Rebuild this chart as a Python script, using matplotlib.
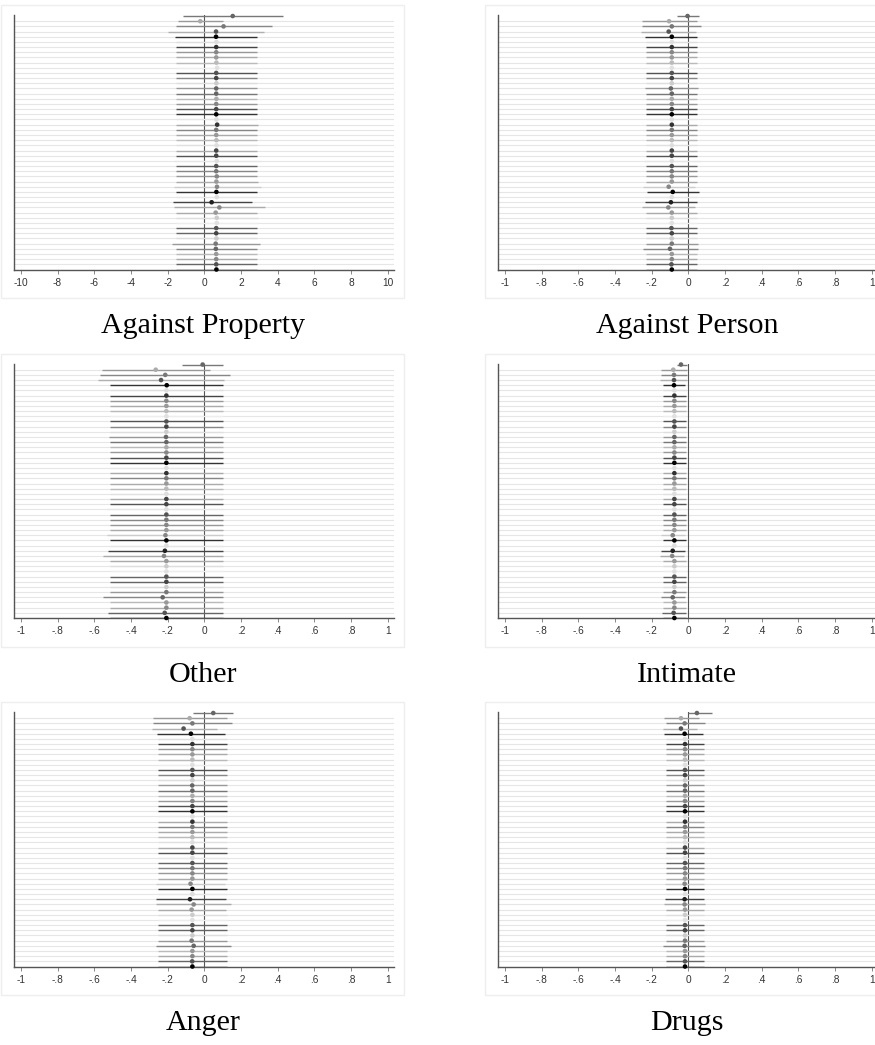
import matplotlib
matplotlib.use("Agg")
import matplotlib.pyplot as plt
from matplotlib.patches import Rectangle

# ---------------- data ----------------
titles = ["Against Property", "Against Person", "Other", "Intimate", "Anger", "Drugs"]

ticks_wide = [-10, -8, -6, -4, -2, 0, 2, 4, 6, 8, 10]
ticklabels_wide = ["-10", "-8", "-6", "-4", "-2", "0", "2", "4", "6", "8", "10"]
ticks_unit = [-1, -0.8, -0.6, -0.4, -0.2, 0, 0.2, 0.4, 0.6, 0.8, 1]
ticklabels_unit = ["-1", "-.8", "-.6", "-.4", "-.2", "0", ".2", ".4", ".6", ".8", "1"]

prop_est = [1.55, -0.22, 1.05, 0.64, 0.64, 0.66, 0.65, 0.65, 0.65, 0.66,
            0.70, 0.65, 0.65, 0.66, 0.65, 0.65, 0.66, 0.65, 0.65, 0.65,
            0.66, 0.70, 0.65, 0.65, 0.66, 0.67, 0.65, 0.65, 0.68, 0.65,
            0.65, 0.68, 0.66, 0.69, 0.66, 0.68, 0.40, 0.82, 0.62, 0.68,
            0.68, 0.65, 0.65, 0.66, 0.62, 0.63, 0.65, 0.65, 0.65, 0.66]
prop_lo = [-1.16, -1.42, -1.55, -1.98, -1.60, -1.55, -1.55, -1.55, -1.55, -1.55,
           -1.55, -1.55, -1.55, -1.55, -1.55, -1.55, -1.55, -1.55, -1.55, -1.55,
           -1.55, -1.52, -1.55, -1.55, -1.55, -1.55, -1.55, -1.55, -1.65, -1.55,
           -1.55, -1.55, -1.55, -1.65, -1.55, -1.55, -1.69, -1.65, -1.53, -1.52,
           -1.52, -1.55, -1.55, -1.55, -1.76, -1.55, -1.55, -1.55, -1.57, -1.55]
prop_hi = [4.27, 1.04, 3.67, 3.25, 2.85, 2.90, 2.90, 2.90, 2.90, 2.90,
           2.90, 2.90, 2.90, 2.90, 2.90, 2.90, 2.90, 2.90, 2.90, 2.90,
           2.90, 2.92, 2.90, 2.90, 2.90, 2.90, 2.90, 2.90, 3.07, 2.90,
           2.90, 2.90, 2.95, 3.09, 2.90, 2.90, 2.58, 3.31, 2.85, 2.92,
           2.92, 2.90, 2.90, 2.90, 3.04, 2.90, 2.90, 2.90, 2.90, 2.90]

person_est = [-0.004, -0.105, -0.090, -0.107, -0.090, -0.090, -0.090, -0.090, -0.090, -0.090,
              -0.090, -0.090, -0.090, -0.090, -0.095, -0.090, -0.090, -0.090, -0.090, -0.090,
              -0.090, -0.090, -0.090, -0.090, -0.090, -0.090, -0.090, -0.090, -0.090, -0.090,
              -0.090, -0.090, -0.090, -0.107, -0.085, -0.090, -0.095, -0.109, -0.090, -0.090,
              -0.090, -0.092, -0.090, -0.090, -0.090, -0.100, -0.090, -0.090, -0.092, -0.090]
person_lo = [-0.060, -0.250, -0.250, -0.260, -0.236, -0.232, -0.232, -0.232, -0.232, -0.232,
             -0.232, -0.232, -0.232, -0.232, -0.237, -0.232, -0.232, -0.232, -0.232, -0.232,
             -0.232, -0.232, -0.232, -0.232, -0.232, -0.232, -0.232, -0.232, -0.240, -0.232,
             -0.232, -0.232, -0.232, -0.245, -0.227, -0.235, -0.235, -0.250, -0.232, -0.232,
             -0.232, -0.232, -0.232, -0.232, -0.232, -0.245, -0.232, -0.232, -0.232, -0.232]
person_hi = [0.060, 0.045, 0.070, 0.040, 0.050, 0.050, 0.050, 0.050, 0.050, 0.050,
             0.050, 0.050, 0.050, 0.050, 0.055, 0.050, 0.050, 0.050, 0.050, 0.050,
             0.050, 0.050, 0.050, 0.050, 0.050, 0.050, 0.050, 0.050, 0.064, 0.050,
             0.050, 0.050, 0.050, 0.036, 0.060, 0.048, 0.048, 0.035, 0.050, 0.050,
             0.050, 0.050, 0.050, 0.050, 0.055, 0.053, 0.050, 0.050, 0.050, 0.050]

other_est = [-0.009, -0.265, -0.213, -0.236, -0.205, -0.207, -0.207, -0.207, -0.207, -0.207,
             -0.207, -0.207, -0.207, -0.207, -0.209, -0.207, -0.207, -0.207, -0.207, -0.207,
             -0.207, -0.207, -0.207, -0.207, -0.207, -0.207, -0.207, -0.207, -0.207, -0.207,
             -0.207, -0.207, -0.207, -0.212, -0.207, -0.207, -0.215, -0.220, -0.207, -0.207,
             -0.207, -0.207, -0.207, -0.207, -0.207, -0.227, -0.207, -0.207, -0.216, -0.207]
other_lo = [-0.120, -0.560, -0.567, -0.580, -0.515, -0.515, -0.515, -0.515, -0.515, -0.515,
            -0.515, -0.515, -0.515, -0.515, -0.518, -0.515, -0.515, -0.515, -0.515, -0.515,
            -0.515, -0.515, -0.515, -0.515, -0.515, -0.515, -0.515, -0.515, -0.530, -0.515,
            -0.515, -0.515, -0.515, -0.530, -0.515, -0.515, -0.525, -0.550, -0.515, -0.515,
            -0.515, -0.515, -0.515, -0.515, -0.515, -0.553, -0.515, -0.515, -0.524, -0.515]
other_hi = [0.100, 0.030, 0.140, 0.110, 0.104, 0.100, 0.100, 0.100, 0.100, 0.100,
            0.100, 0.100, 0.100, 0.100, 0.100, 0.100, 0.100, 0.100, 0.100, 0.100,
            0.100, 0.100, 0.100, 0.100, 0.100, 0.100, 0.100, 0.100, 0.105, 0.100,
            0.100, 0.100, 0.100, 0.100, 0.100, 0.100, 0.100, 0.100, 0.100, 0.100,
            0.100, 0.100, 0.100, 0.100, 0.100, 0.100, 0.100, 0.100, 0.100, 0.100]

intim_est = [-0.040, -0.082, -0.078, -0.078, -0.078, -0.076, -0.076, -0.076, -0.076, -0.076,
             -0.076, -0.076, -0.076, -0.076, -0.076, -0.076, -0.076, -0.076, -0.076, -0.076,
             -0.076, -0.076, -0.076, -0.076, -0.076, -0.076, -0.076, -0.076, -0.076, -0.076,
             -0.076, -0.076, -0.076, -0.085, -0.076, -0.076, -0.085, -0.088, -0.076, -0.076,
             -0.076, -0.076, -0.076, -0.076, -0.076, -0.085, -0.076, -0.076, -0.080, -0.076]
intim_lo = [-0.064, -0.147, -0.147, -0.153, -0.140, -0.140, -0.140, -0.140, -0.140, -0.140,
            -0.140, -0.140, -0.140, -0.140, -0.140, -0.140, -0.140, -0.140, -0.140, -0.140,
            -0.140, -0.140, -0.140, -0.140, -0.140, -0.140, -0.140, -0.140, -0.143, -0.140,
            -0.140, -0.140, -0.140, -0.150, -0.140, -0.140, -0.150, -0.153, -0.140, -0.140,
            -0.140, -0.140, -0.140, -0.140, -0.140, -0.150, -0.140, -0.140, -0.145, -0.140]
intim_hi = [-0.009, -0.009, -0.009, -0.005, -0.018, -0.013, -0.013, -0.013, -0.013, -0.013,
            -0.013, -0.013, -0.013, -0.013, -0.013, -0.013, -0.013, -0.013, -0.013, -0.013,
            -0.013, -0.013, -0.013, -0.013, -0.013, -0.013, -0.013, -0.013, -0.010, -0.013,
            -0.013, -0.013, -0.013, -0.020, -0.013, -0.013, -0.020, -0.022, -0.013, -0.013,
            -0.013, -0.013, -0.013, -0.013, -0.013, -0.020, -0.013, -0.013, -0.015, -0.013]

anger_est = [0.049, -0.080, -0.065, -0.113, -0.073, -0.065, -0.065, -0.065, -0.065, -0.065,
             -0.065, -0.065, -0.065, -0.065, -0.066, -0.065, -0.065, -0.065, -0.065, -0.065,
             -0.065, -0.065, -0.065, -0.065, -0.065, -0.065, -0.065, -0.065, -0.065, -0.065,
             -0.065, -0.065, -0.065, -0.075, -0.065, -0.065, -0.078, -0.058, -0.069, -0.065,
             -0.065, -0.065, -0.065, -0.065, -0.069, -0.058, -0.065, -0.065, -0.066, -0.065]
anger_lo = [-0.064, -0.280, -0.280, -0.284, -0.256, -0.250, -0.250, -0.250, -0.250, -0.250,
            -0.250, -0.250, -0.250, -0.250, -0.252, -0.250, -0.250, -0.250, -0.250, -0.250,
            -0.250, -0.250, -0.250, -0.250, -0.250, -0.250, -0.250, -0.250, -0.255, -0.250,
            -0.250, -0.250, -0.250, -0.262, -0.250, -0.250, -0.262, -0.264, -0.250, -0.250,
            -0.250, -0.250, -0.250, -0.250, -0.255, -0.262, -0.250, -0.250, -0.250, -0.250]
anger_hi = [0.158, 0.122, 0.150, 0.067, 0.115, 0.122, 0.122, 0.122, 0.122, 0.122,
            0.122, 0.122, 0.122, 0.122, 0.122, 0.122, 0.122, 0.122, 0.122, 0.122,
            0.122, 0.122, 0.122, 0.122, 0.122, 0.122, 0.122, 0.122, 0.128, 0.122,
            0.122, 0.122, 0.122, 0.115, 0.122, 0.122, 0.118, 0.147, 0.118, 0.122,
            0.122, 0.122, 0.122, 0.122, 0.122, 0.147, 0.122, 0.122, 0.122, 0.122]

drugs_est = [0.047, -0.040, -0.020, -0.040, -0.020, -0.018, -0.018, -0.018, -0.018, -0.018,
             -0.018, -0.018, -0.018, -0.018, -0.018, -0.018, -0.018, -0.018, -0.018, -0.018,
             -0.018, -0.018, -0.018, -0.018, -0.018, -0.018, -0.018, -0.018, -0.018, -0.018,
             -0.018, -0.018, -0.018, -0.020, -0.018, -0.018, -0.020, -0.020, -0.018, -0.018,
             -0.018, -0.018, -0.018, -0.018, -0.018, -0.020, -0.018, -0.018, -0.018, -0.018]
drugs_lo = [0.000, -0.130, -0.120, -0.140, -0.130, -0.120, -0.120, -0.120, -0.120, -0.120,
            -0.120, -0.120, -0.120, -0.120, -0.120, -0.120, -0.120, -0.120, -0.120, -0.120,
            -0.120, -0.120, -0.120, -0.120, -0.120, -0.120, -0.120, -0.120, -0.125, -0.120,
            -0.120, -0.120, -0.120, -0.125, -0.120, -0.120, -0.125, -0.133, -0.120, -0.120,
            -0.120, -0.120, -0.120, -0.120, -0.120, -0.136, -0.120, -0.120, -0.120, -0.120]
drugs_hi = [0.130, 0.060, 0.090, 0.050, 0.080, 0.084, 0.084, 0.084, 0.084, 0.084,
            0.084, 0.084, 0.084, 0.084, 0.084, 0.084, 0.084, 0.084, 0.084, 0.084,
            0.084, 0.084, 0.084, 0.084, 0.084, 0.084, 0.084, 0.084, 0.088, 0.084,
            0.084, 0.084, 0.084, 0.085, 0.084, 0.084, 0.085, 0.093, 0.084, 0.084,
            0.084, 0.084, 0.084, 0.084, 0.084, 0.090, 0.084, 0.084, 0.084, 0.084]

# ---------------- style (per-row gray shades) ----------------
point_gray = [0.40, 0.67, 0.47, 0.33, 0.00, 0.87, 0.20, 0.53, 0.60, 0.73,
              0.88, 0.33, 0.27, 0.80, 0.40, 0.40, 0.67, 0.53, 0.27, 0.00,
              0.87, 0.20, 0.47, 0.60, 0.73, 0.87, 0.27, 0.27, 0.87, 0.33,
              0.47, 0.53, 0.60, 0.53, 0.00, 0.87, 0.13, 0.53, 0.60, 0.80,
              0.88, 0.33, 0.27, 0.80, 0.47, 0.40, 0.60, 0.53, 0.33, 0.00]
ci_gray = [0.47, 0.60, 0.53, 0.69, 0.20, 0.87, 0.27, 0.60, 0.67, 0.73,
           0.93, 0.33, 0.53, 0.87, 0.60, 0.47, 0.73, 0.60, 0.33, 0.20,
           0.90, 0.67, 0.53, 0.67, 0.73, 0.88, 0.67, 0.33, 0.90, 0.40,
           0.53, 0.60, 0.67, 0.80, 0.20, 0.90, 0.27, 0.67, 0.67, 0.87,
           0.93, 0.40, 0.40, 0.87, 0.60, 0.53, 0.73, 0.67, 0.40, 0.20]

panels = [
    (prop_est, prop_lo, prop_hi, ticks_wide, ticklabels_wide, 10.36),
    (person_est, person_lo, person_hi, ticks_unit, ticklabels_unit, 1.0366),
    (other_est, other_lo, other_hi, ticks_unit, ticklabels_unit, 1.0366),
    (intim_est, intim_lo, intim_hi, ticks_unit, ticklabels_unit, 1.0366),
    (anger_est, anger_lo, anger_hi, ticks_unit, ticklabels_unit, 1.0366),
    (drugs_est, drugs_lo, drugs_hi, ticks_unit, ticklabels_unit, 1.0366),
]

W, H = 875, 1045
fig = plt.figure(figsize=(W / 100, H / 100), dpi=100)
fig.patch.set_facecolor("white")

col_left = [14.3, 498.3]
ax_w = 380.0
row_top = [15.0, 363.5, 712.0]
ax_h = 254.5
box_left = [1.0, 485.0]
box_w = [403.0, 420.0]
box_top = [5.0, 353.5, 702.0]
box_h = 293.0


def gray(g):
    return (g, g, g)


for k, (est, lo, hi, ticks, tlabels, xl) in enumerate(panels):
    r, c = divmod(k, 2)
    # light outer frame
    fig.patches.append(Rectangle((box_left[c] / W, 1 - (box_top[r] + box_h) / H),
                                 box_w[c] / W, box_h / H, transform=fig.transFigure,
                                 facecolor="none", edgecolor="#eeeeee", lw=1.0, zorder=0))
    ax = fig.add_axes([col_left[c] / W, 1 - (row_top[r] + ax_h) / H, ax_w / W, ax_h / H])
    n = len(est)
    rows = list(range(n))
    ax.set_xlim(-xl, xl)
    ax.set_ylim(n - 1, -0.2)
    ax.set_yticks(rows[1:])
    ax.tick_params(axis="y", length=0, labelleft=False)
    ax.grid(axis="y", color="#e6e6e6", lw=0.8, zorder=0)
    ax.set_axisbelow(True)
    ax.axvline(0, color="#555555", lw=0.8, zorder=2)
    ax.hlines(rows, lo, hi, colors=[gray(g) for g in ci_gray], lw=1.0, zorder=3)
    ax.scatter(est, rows, s=11, c=[gray(g) for g in point_gray], zorder=4,
               clip_on=False, linewidths=0)
    ax.set_xticks(ticks)
    ax.set_xticklabels(tlabels, fontfamily="Liberation Sans", fontsize=7.3, color="#333333")
    ax.tick_params(axis="x", length=2.8, width=0.7, color="#888888", pad=3.0)
    for s in ["top", "right"]:
        ax.spines[s].set_visible(False)
    for s in ["left", "bottom"]:
        ax.spines[s].set_color("#555555")
        ax.spines[s].set_linewidth(1.0)
    ax.patch.set_alpha(0)
    # panel title
    cx = (col_left[c] + ax_w / 2 - 1.5) / W
    fig.text(cx, 1 - (row_top[r] + 318) / H, titles[k], ha="center", va="baseline",
             fontfamily="Liberation Serif", fontsize=21.6, color="black")

fig.savefig("out.png", dpi=100)
